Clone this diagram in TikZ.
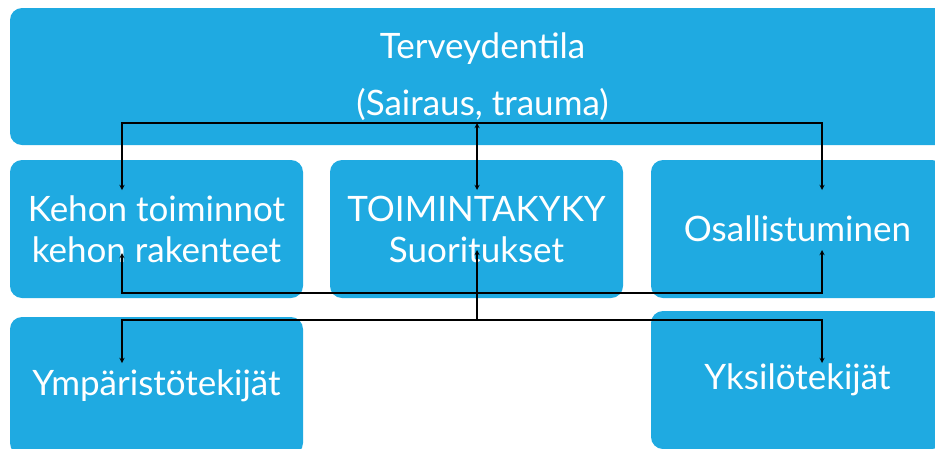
\documentclass[tikz,border=0pt]{standalone}
\usepackage{fontspec}
\setmainfont{Lato}
\usetikzlibrary{arrows,calc}
\definecolor{boxblue}{RGB}{31,170,225}

\begin{document}
\begin{tikzpicture}[x=1pt,y=-1pt,
  box/.style={rectangle,rounded corners=12pt,fill=boxblue,text=white,inner sep=0pt,
    minimum width=293pt,minimum height=138pt,align=center,font=\fontsize{35}{41}\selectfont},
  link/.style={draw=black,line width=1.3pt,-stealth}]
  \useasboundingbox (0,0) rectangle (935,448);
  \clip (0,0) rectangle (935,448);
  % boxes
  \node[box,minimum width=945pt,minimum height=137pt,font=\fontsize{35}{57}\selectfont]
    (terv) at (482.5,76.5) {Terveydentila\\(Sairaus, trauma)};
  \node[box] (keho) at (156.5,229) {Kehon toiminnot\\kehon rakenteet};
  \node[box] (toim) at (476.5,229) {TOIMINTAKYKY\\Suoritukset};
  \node[box] (osal) at (797.5,229) {Osallistuminen};
  \node[box] (ymp) at (156.5,386) {Ympäristötekijät};
  \node[box] (yksi) at (797.5,380) {Yksilötekijät};
  % connector points
  \coordinate (tm) at (477,123);
  \coordinate (kehoIn) at (122,190);
  \coordinate (toimIn) at (477,190);
  \coordinate (osalIn) at (822,190);
  \coordinate (kehoOut) at (122,253);
  \coordinate (toimOut) at (477,250);
  \coordinate (osalOut) at (822,250);
  \coordinate (bm) at (477,293);
  \coordinate (mm) at (477,320);
  \coordinate (ympIn) at (122,363);
  \coordinate (yksiIn) at (822,363);
  % connectors
  \draw[link] (tm) -| (kehoIn);
  \draw[link] (tm) -| (osalIn);
  \draw[link,stealth-stealth] (tm) -- (toimIn);
  \draw[link] (bm) -| (kehoOut);
  \draw[link] (bm) -| (osalOut);
  \draw[link] (mm) -- (toimOut);
  \draw[link] (mm) -| (ympIn);
  \draw[link] (mm) -| (yksiIn);
\end{tikzpicture}
\end{document}
